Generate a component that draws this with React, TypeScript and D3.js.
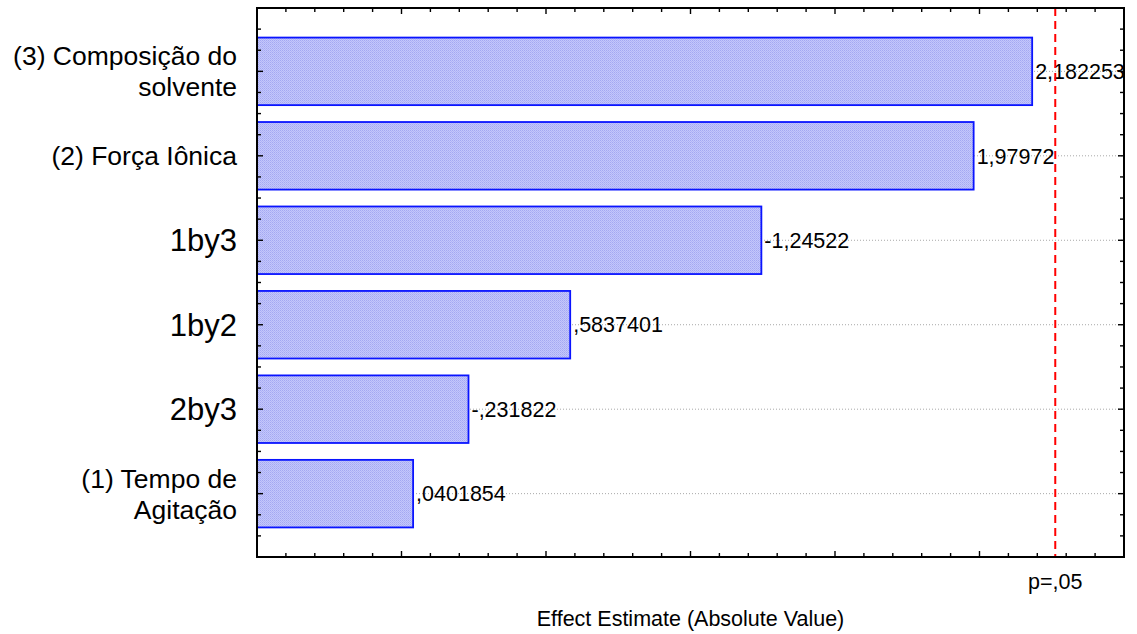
import React from "react";
import * as d3 from "d3";

// ---- data ----
const categories: string[][] = [
  ["(3) Composição do", "solvente"],
  ["(2) Força Iônica"],
  ["1by3"],
  ["1by2"],
  ["2by3"],
  ["(1) Tempo de", "Agitação"],
];
const effects: number[] = [2.182253, 1.97972, -1.24522, 0.5837401, -0.231822, 0.0401854];
const criticalValue = 2.262157; // p = .05
const criticalLabel = "p=,05";
const xDomain: [number, number] = [-0.5, 2.5];
const xTitle = "Effect Estimate (Absolute Value)";

const W = 1137;
const H = 634;
const M = { left: 257, right: 1124, top: 8, bottom: 557 };
const FONT = "'Liberation Sans', Arial, Helvetica, sans-serif";

function fmt(v: number): string {
  return String(v).replace("0.", ".").replace(".", ",");
}

export default function App() {
  const x = d3.scaleLinear().domain(xDomain).range([M.left, M.right]);
  const keys = categories.map((c) => c.join(" "));
  const y = d3.scalePoint<string>().domain(keys).range([M.top, M.bottom]).padding(0.75);
  const step = y.step();
  const barH = step * 0.8;

  const xt = d3.range(Math.round((xDomain[1] - xDomain[0]) / 0.1) + 1).map((i) => xDomain[0] + i * 0.1);
  const isMajor = (v: number) => Math.abs(v * 2 - Math.round(v * 2)) < 1e-6;

  const yTicks: { v: number; major: boolean }[] = [];
  keys.forEach((k) => {
    const c = y(k)!;
    for (let j = -2; j <= 2; j++) {
      const p = c + (j * step) / 4;
      if (p > M.top + 1 && p < M.bottom - 1) yTicks.push({ v: p, major: j === 0 });
    }
  });
  const yt = yTicks.filter((t, i) => yTicks.findIndex((u) => Math.abs(u.v - t.v) < 0.5) === i);

  return (
    <svg
      width={W}
      height={H}
      style={{ position: "absolute", left: 0, top: 0, background: "#fff" }}
      fontFamily={FONT}
    >
      <defs>
        <pattern id="hatch" width="2" height="2" patternUnits="userSpaceOnUse">
          <rect width="2" height="2" fill="#c4c7fb" />
          <rect x="0" y="0" width="1" height="1" fill="#a4a8f2" />
          <rect x="1" y="1" width="1" height="1" fill="#b0b4f6" />
        </pattern>
      </defs>
      <rect width={W} height={H} fill="#fff" />

      {/* gridlines */}
      {keys.map((k) => (
        <line
          key={"g" + k}
          x1={M.left}
          x2={M.right}
          y1={y(k)}
          y2={y(k)}
          stroke="#a8a8a8"
          strokeWidth={1}
          strokeDasharray="1,2"
        />
      ))}

      {/* bars */}
      {keys.map((k, i) => (
        <rect
          key={"b" + k}
          x={M.left}
          y={y(k)! - barH / 2}
          width={x(Math.abs(effects[i])) - M.left}
          height={barH}
          fill="url(#hatch)"
          stroke="#0a14ff"
          strokeWidth={1.8}
        />
      ))}

      {/* value labels */}
      {keys.map((k, i) => (
        <text
          key={"v" + k}
          x={x(Math.abs(effects[i])) + 3}
          y={y(k)}
          dy="0.36em"
          fontSize={21.5}
          fill="#000"
        >
          {fmt(effects[i])}
        </text>
      ))}

      {/* critical line */}
      <line
        x1={x(criticalValue)}
        x2={x(criticalValue)}
        y1={M.top}
        y2={M.bottom}
        stroke="#ff0000"
        strokeWidth={2}
        strokeDasharray="8,5"
      />

      {/* frame */}
      <rect
        x={M.left}
        y={M.top}
        width={M.right - M.left}
        height={M.bottom - M.top}
        fill="none"
        stroke="#000"
        strokeWidth={2}
      />

      {/* x ticks top/bottom */}
      {xt.map((v, i) => {
        const L = isMajor(v) ? 6 : 4;
        const px = x(v);
        return (
          <g key={"xt" + i} stroke="#000" strokeWidth={1.4}>
            <line x1={px} x2={px} y1={M.top} y2={M.top + L} />
            <line x1={px} x2={px} y1={M.bottom} y2={M.bottom - L} />
          </g>
        );
      })}

      {/* y ticks left/right */}
      {yt.map((t, i) => {
        const L = t.major ? 6 : 4;
        return (
          <g key={"yt" + i} stroke="#000" strokeWidth={1.4}>
            <line x1={M.left} x2={M.left + L} y1={t.v} y2={t.v} />
            <line x1={M.right} x2={M.right - L} y1={t.v} y2={t.v} />
          </g>
        );
      })}

      {/* category labels */}
      {categories.map((lines, i) => {
        const c = y(keys[i])!;
        const main = lines[0].startsWith("(");
        const fs = main ? 26.5 : 31;
        const lh = 31;
        const y0 = c - ((lines.length - 1) * lh) / 2;
        return (
          <text key={"c" + i} x={237} textAnchor="end" fontSize={fs} fill="#000">
            {lines.map((ln, j) => (
              <tspan key={j} x={237} y={y0 + j * lh} dy="0.36em">
                {ln}
              </tspan>
            ))}
          </text>
        );
      })}

      {/* critical label */}
      <text x={x(criticalValue)} y={589} textAnchor="middle" fontSize={21.5} fill="#000">
        {criticalLabel}
      </text>

      {/* axis title */}
      <text x={(M.left + M.right) / 2} y={626} textAnchor="middle" fontSize={21.5} fill="#000">
        {xTitle}
      </text>
    </svg>
  );
}
